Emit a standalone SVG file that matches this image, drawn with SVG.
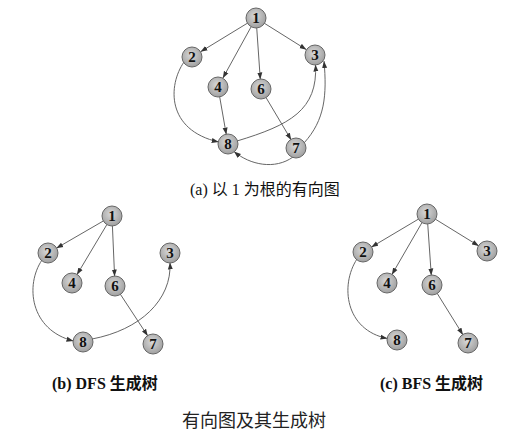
<svg xmlns="http://www.w3.org/2000/svg" width="521" height="443" viewBox="0 0 521 443">
<style>
.e{fill:none;stroke:#666;stroke-width:1;marker-end:url(#ah)}
.n circle{fill:url(#g);stroke:#666;stroke-width:1}
.n text{font-family:"Liberation Serif",serif;font-weight:bold;font-size:15px;text-anchor:middle;fill:#111}
.cap{font-family:"Liberation Serif","Noto Sans CJK SC",serif;font-size:16px;fill:#111}
.big{font-family:"Noto Sans CJK SC",sans-serif;font-size:18px;fill:#222;text-anchor:middle}
</style>
<defs>
<radialGradient id="g" cx="0.45" cy="0.4" r="0.6"><stop offset="0" stop-color="#d8d8d8"/><stop offset="1" stop-color="#a0a0a0"/></radialGradient>
<marker id="ah" markerUnits="userSpaceOnUse" markerWidth="8" markerHeight="6" refX="7" refY="3" orient="auto"><path d="M0,0.5 L7,3 L0,5.5 z" fill="#333"/></marker>
</defs>
<rect width="521" height="443" fill="#fff"/>
<g id="connectors">
<path class="e" d="M247.9,22.9 L200.5,51.8"/>
<path class="e" d="M251.4,26.3 L222.8,78.2"/>
<path class="e" d="M256.7,27.5 L260.3,79.5"/>
<path class="e" d="M264.1,23.1 L306.5,49.7"/>
<path class="e" d="M219.6,96.4 L226.3,134.6"/>
<path class="e" d="M265.8,97.2 L291.2,139.9"/>
<path class="e" d="M184,62 C168,85 166,130 218.7,142"/>
<path class="e" d="M237,141 C290,125 318,110 315.5,64.5"/>
<path class="e" d="M304,143 C325,120 327,95 324,61"/>
<path class="e" d="M293,157 C275,170 250,165 234,151.5"/>
<path class="e" d="M103.8,220.7 L56.2,248.3"/>
<path class="e" d="M107.1,224.2 L76.9,274.8"/>
<path class="e" d="M112.4,225.5 L114.6,276.5"/>
<path class="e" d="M120.2,294 L147.8,336"/>
<path class="e" d="M42,260 C25,285 30,330 73.5,341"/>
<path class="e" d="M92,339 C140,330 172,300 170,262.5"/>
<path class="e" d="M418.8,218.9 L371.2,247.2"/>
<path class="e" d="M422.2,222.2 L391.8,274.8"/>
<path class="e" d="M427.7,223.5 L431.3,275.5"/>
<path class="e" d="M435.1,219 L478.9,246"/>
<path class="e" d="M437,293.1 L463,334.9"/>
<path class="e" d="M357,259 C340,285 345,330 387.5,338.5"/>
</g>
<g id="a1" class="n"><circle cx="256" cy="18" r="10"/><text x="256" y="23">1</text></g>
<g id="a2" class="n"><circle cx="192" cy="57" r="10"/><text x="192" y="62">2</text></g>
<g id="a3" class="n"><circle cx="315" cy="55" r="10"/><text x="315" y="60">3</text></g>
<g id="a4" class="n"><circle cx="218" cy="87" r="10"/><text x="218" y="92">4</text></g>
<g id="a6" class="n"><circle cx="261" cy="89" r="10"/><text x="261" y="94">6</text></g>
<g id="a8" class="n"><circle cx="228" cy="144" r="10"/><text x="228" y="149">8</text></g>
<g id="a7" class="n"><circle cx="296" cy="148" r="10"/><text x="296" y="153">7</text></g>
<g id="b1" class="n"><circle cx="112" cy="216" r="10"/><text x="112" y="221">1</text></g>
<g id="b2" class="n"><circle cx="48" cy="253" r="10"/><text x="48" y="258">2</text></g>
<g id="b3" class="n"><circle cx="170" cy="253" r="10"/><text x="170" y="258">3</text></g>
<g id="b4" class="n"><circle cx="72" cy="283" r="10"/><text x="72" y="288">4</text></g>
<g id="b6" class="n"><circle cx="115" cy="286" r="10"/><text x="115" y="291">6</text></g>
<g id="b8" class="n"><circle cx="83" cy="342" r="10"/><text x="83" y="347">8</text></g>
<g id="b7" class="n"><circle cx="153" cy="344" r="10"/><text x="153" y="349">7</text></g>
<g id="c1" class="n"><circle cx="427" cy="214" r="10"/><text x="427" y="219">1</text></g>
<g id="c2" class="n"><circle cx="363" cy="252" r="10"/><text x="363" y="257">2</text></g>
<g id="c3" class="n"><circle cx="487" cy="251" r="10"/><text x="487" y="256">3</text></g>
<g id="c4" class="n"><circle cx="387" cy="283" r="10"/><text x="387" y="288">4</text></g>
<g id="c6" class="n"><circle cx="432" cy="285" r="10"/><text x="432" y="290">6</text></g>
<g id="c8" class="n"><circle cx="397" cy="340" r="10"/><text x="397" y="345">8</text></g>
<g id="c7" class="n"><circle cx="468" cy="343" r="10"/><text x="468" y="348">7</text></g>
<text class="cap" x="190" y="195">(a) 以 1 为根的有向图</text>
<text class="cap" x="52" y="389" font-weight="bold">(b) DFS 生成树</text>
<text class="cap" x="380" y="389" font-weight="bold">(c) BFS 生成树</text>
<text class="big" x="254" y="427">有向图及其生成树</text>
</svg>
